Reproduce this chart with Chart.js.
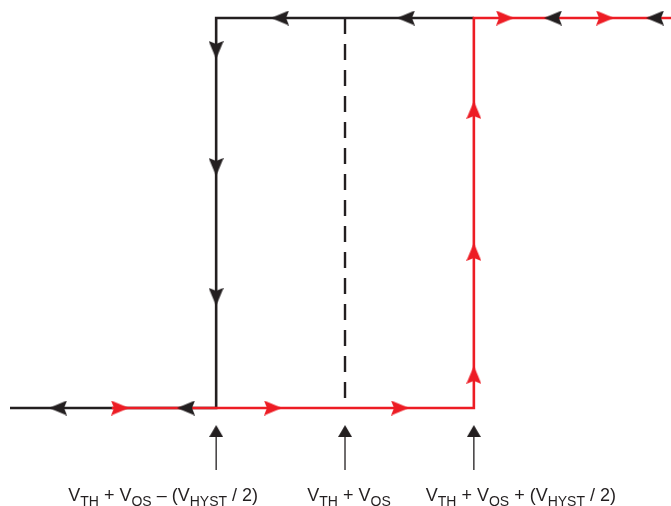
<!DOCTYPE html>
<html>
<head>
<meta charset="utf-8">
<script src="https://cdn.jsdelivr.net/npm/chart.js@4"></script>
<style>
  html, body { margin: 0; padding: 0; background: #fff; overflow: hidden; }
  #wrap { width: 671px; height: 506px; }
</style>
</head>
<body>
<div id="wrap"><canvas id="hyst"></canvas></div>
<script>
// x in units of V_HYST/2 around V_TH + V_OS, y = output level (0 low, 1 high)
const thresholds = [-1, 0, 1];
const labels = [
    [['V', 0], ['TH', 1], [' + V', 0], ['OS', 1], [' \u2013 (V', 0], ['HYST', 1], [' / 2)', 0]],
    [['V', 0], ['TH', 1], [' + V', 0], ['OS', 1]],
    [['V', 0], ['TH', 1], [' + V', 0], ['OS', 1], [' + (V', 0], ['HYST', 1], [' / 2)', 0]]
];
const labelShift = [-53, 4, 47];

// falling input path (black) and rising input path (red)
const fallingX = [1, -1, -1, -2.6];
const fallingY = [1, 1, 0, 0];
const risingX = [-1.81, 1, 1, 2.53];
const risingY = [0, 0, 1, 1];
const centerX = [0, 0];
const centerY = [1, 0];

// direction markers: x, y, angle (deg, 0 = up)
const blackArrowX = [-2.227, -1.234, -0.504, 0.473, 1.614, 2.406, -1, -1, -1];
const blackArrowY = [0, 0, 1, 1, 1, 1, 0.918, 0.618, 0.285];
const blackArrowRot = [270, 270, 270, 270, 270, 270, 180, 180, 180];
const redArrowX = [-1.746, -0.559, 0.427, 1.242, 2.018, 1, 1, 1];
const redArrowY = [0, 0, 0, 1, 1, 0.764, 0.4, 0.085];
const redArrowRot = [90, 90, 90, 90, 90, 0, 0, 0];

const pointerTop = -0.074;
const pointerBottom = -0.159;
const pointerHead = -0.059;

const BLACK = '#231f20';
const RED = '#ed1c24';

function arrowHead(color, notch) {
    const c = document.createElement('canvas');
    c.width = notch ? 15 : 14;
    c.height = notch ? 18 : 12;
    const g = c.getContext('2d');
    const w = c.width;
    g.fillStyle = color;
    g.beginPath();
    g.moveTo(w / 2, 0);
    g.lineTo(w, c.height);
    if (notch) g.lineTo(w / 2, c.height - 3);
    g.lineTo(0, c.height);
    g.closePath();
    g.fill();
    return c;
}

const blackHead = arrowHead(BLACK, true);
const redHead = arrowHead(RED, true);
const pointerHeadImg = arrowHead(BLACK, false);

function pts(xs, ys) {
    return xs.map((x, i) => ({ x: x, y: ys[i] }));
}

const pointerSets = thresholds.map((t) => ({
    data: [{ x: t, y: pointerTop }, { x: t, y: pointerBottom }],
    showLine: true,
    borderColor: BLACK,
    borderWidth: 1.3,
    pointRadius: 0,
    clip: false
}));

const labelPlugin = {
    id: 'thresholdLabels',
    afterDraw(chart) {
        const ctx = chart.ctx;
        const xs = chart.scales.x;
        ctx.save();
        ctx.fillStyle = BLACK;
        ctx.textBaseline = 'alphabetic';
        labels.forEach((parts, i) => {
            let w = 0;
            parts.forEach(([t, sub]) => {
                ctx.font = (sub ? 14 : 18) + 'px "Liberation Sans", Arial, sans-serif';
                w += ctx.measureText(t).width;
            });
            let x = xs.getPixelForValue(thresholds[i]) + labelShift[i] - w / 2;
            parts.forEach(([t, sub]) => {
                ctx.font = (sub ? 14 : 18) + 'px "Liberation Sans", Arial, sans-serif';
                ctx.fillText(t, x, sub ? 505.5 : 501);
                x += ctx.measureText(t).width;
            });
        });
        ctx.restore();
    }
};

new Chart(document.getElementById('hyst'), {
    type: 'scatter',
    data: {
        datasets: [
            {
                data: pts(thresholds, thresholds.map(() => pointerHead)),
                pointStyle: pointerHeadImg,
                clip: false
            },
            {
                data: pts(redArrowX, redArrowY),
                pointStyle: redHead,
                rotation: redArrowRot,
                clip: false
            },
            {
                data: pts(blackArrowX, blackArrowY),
                pointStyle: blackHead,
                rotation: blackArrowRot,
                clip: false
            },
            {
                data: pts(risingX, risingY),
                showLine: true,
                borderColor: RED,
                borderWidth: 2.6,
                pointRadius: 0,
                borderJoinStyle: 'miter',
                clip: false
            },
            {
                data: pts(fallingX, fallingY),
                showLine: true,
                borderColor: BLACK,
                borderWidth: 2.6,
                pointRadius: 0,
                borderJoinStyle: 'miter',
                clip: false
            },
            {
                data: pts(centerX, centerY),
                showLine: true,
                borderColor: BLACK,
                borderWidth: 2.4,
                borderDash: [16, 10],
                pointRadius: 0,
                clip: false
            },
            ...pointerSets
        ]
    },
    options: {
        responsive: true,
        maintainAspectRatio: false,
        animation: false,
        layout: {
            autoPadding: false,
            padding: { left: 10, right: 0, top: 18, bottom: 20 }
        },
        plugins: {
            legend: { display: false },
            tooltip: { enabled: false }
        },
        scales: {
            x: { type: 'linear', display: false, min: -2.6, max: 2.53 },
            y: { type: 'linear', display: false, min: -0.2, max: 1 }
        }
    },
    plugins: [labelPlugin]
});
</script>
</body>
</html>
